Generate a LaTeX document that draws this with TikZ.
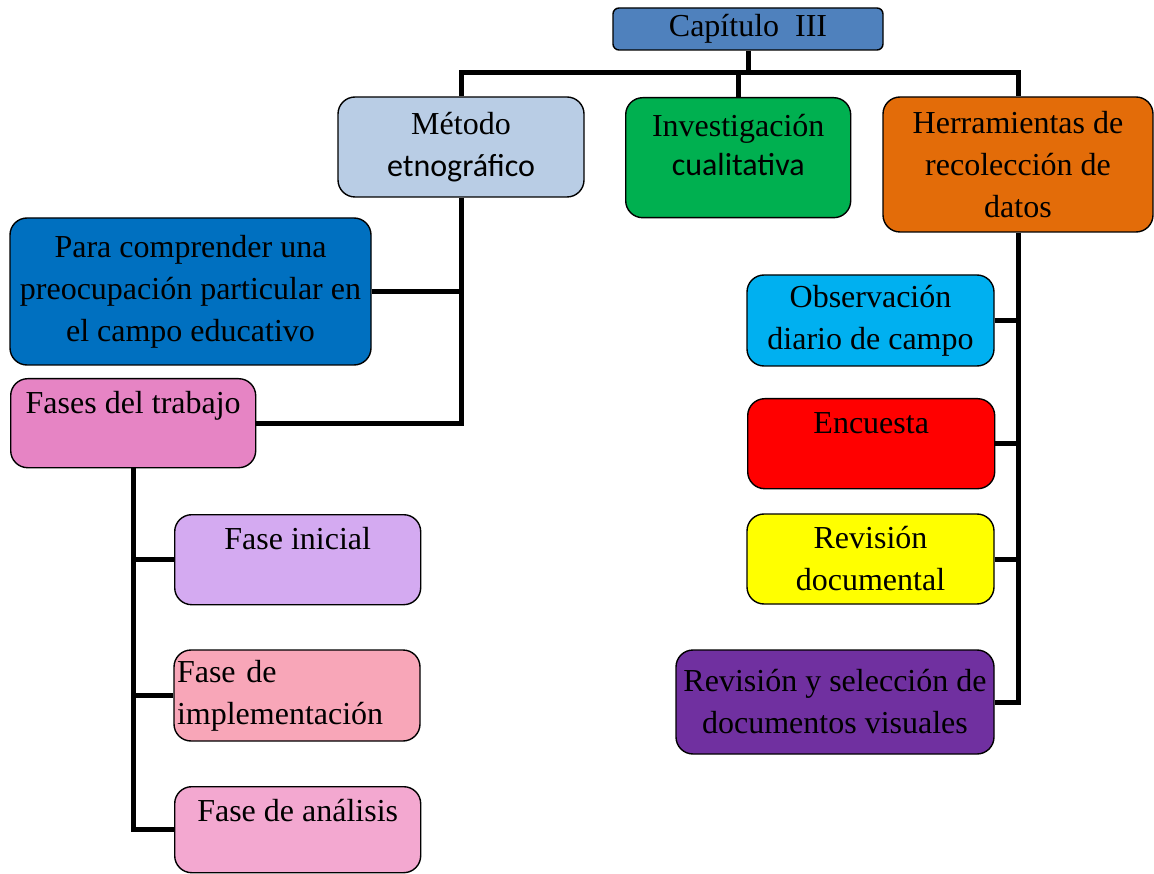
\documentclass[tikz,border=0pt]{standalone}
\usepackage{fontspec}
\setmainfont{Liberation Serif}
\newfontfamily\calibri{Carlito}

\definecolor{capblue}{HTML}{4F81BD}
\definecolor{metblue}{HTML}{B9CDE5}
\definecolor{invgreen}{HTML}{00B050}
\definecolor{herorange}{HTML}{E36C09}
\definecolor{parablue}{HTML}{0070C0}
\definecolor{fasepink}{HTML}{E684C4}
\definecolor{lilac}{HTML}{D4AAF1}
\definecolor{rose}{HTML}{F8A6B8}
\definecolor{softpink}{HTML}{F3A8D0}
\definecolor{obscyan}{HTML}{00B0F0}
\definecolor{revpurple}{HTML}{7030A0}
\definecolor{revyellow}{HTML}{FFFF00}

\begin{document}
\begin{tikzpicture}[
    x=1pt, y=-1pt,
    box/.style={rectangle, draw, line width=1.4pt, rounded corners=17pt, align=center, inner sep=0pt, font=\fontsize{32}{42}\selectfont},
    topbox/.style={box, anchor=north west, text height=35pt, text depth=#1},
    link/.style={line width=5pt}
    ]
    \useasboundingbox (0,0) rectangle (1154,874);

    % top level
    \node[box, rounded corners=6pt, fill=capblue, minimum width=270pt, minimum height=42pt] (cap) at (748,29) {Capítulo~~III};
    \node[box, fill=metblue, minimum width=246pt, minimum height=100pt] (met) at (461,147) {Método\\{\calibri etnográfico}};
    \node[topbox=81pt, text height=39pt, fill=invgreen, minimum width=225pt] (inv) at (625,97)
        {\begin{tabular}[t]{@{}c@{}}Investigación\\[-3pt]{\calibri cualitativa}\end{tabular}};
    \node[box, fill=herorange, minimum width=270pt, minimum height=135pt] (her) at (1018,164.5) {Herramientas de\\recolección de\\datos};

    % left branch
    \node[box, fill=parablue, minimum width=361pt, minimum height=147pt] (para) at (190.5,291.5) {Para comprender una\\preocupación particular en\\el campo educativo};
    \node[topbox=54pt, fill=fasepink, minimum width=245pt] (fas) at (10,378) {Fases del trabajo};
    \node[topbox=55pt, fill=lilac, minimum width=246pt] (fi) at (174,514) {Fase inicial};
    \node[box, fill=rose, minimum width=246pt, minimum height=91pt, text width=240pt, align=left] (fim) at (297,695.5) {Fase de\\implementación};
    \node[topbox=51pt, fill=softpink, minimum width=246pt] (fan) at (174,786) {Fase de análisis};

    % right branch
    \node[box, fill=obscyan, minimum width=247pt, minimum height=91pt] (obs) at (870.5,320.5) {Observación\\diario de campo};
    \node[topbox=55pt, fill=red, minimum width=247pt] (enc) at (747,398) {Encuesta};
    \node[box, fill=revyellow, minimum width=247pt, minimum height=90pt] (rev) at (870.5,559) {Revisión\\documental};
    \node[box, fill=revpurple, minimum width=318pt, minimum height=104pt] (rvs) at (835,702) {Revisión y selección de\\documentos visuales};

    % connectors
    \coordinate (bus) at (748,73);
    \draw[link] (cap.south) -- (bus);
    \draw[link] (met.north) |- (bus) -| (her.north);
    \draw[link] (inv.north) -- (inv.north |- bus);

    \draw[link] (met.south) |- (fas.east);
    \draw[link] (para.east) -- (para.east -| met.south);

    \draw[link] (fas.south) |- (fan.west);
    \draw[link] (fi.west) -- (fi.west -| fas.south);
    \draw[link] (fim.west) -- (fim.west -| fas.south);

    \draw[link] (her.south) |- (rvs.east);
    \draw[link] (obs.east) -- (obs.east -| her.south);
    \draw[link] (enc.east) -- (enc.east -| her.south);
    \draw[link] (rev.east) -- (rev.east -| her.south);
\end{tikzpicture}
\end{document}
